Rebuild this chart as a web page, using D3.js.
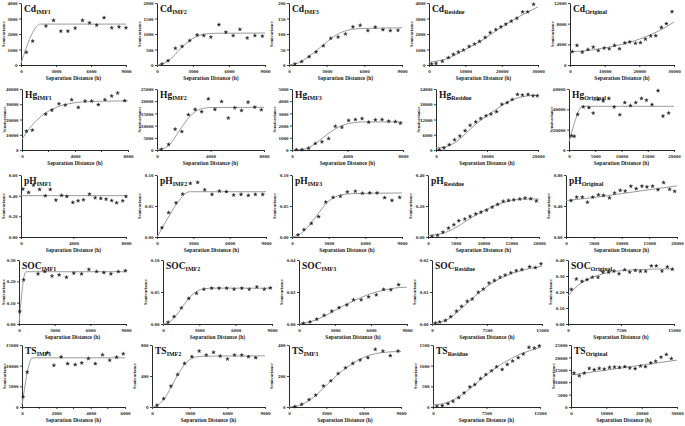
<!DOCTYPE html>
<html>
<head>
<meta charset="utf-8">
<script src="https://cdn.jsdelivr.net/npm/d3@7"></script>
<style>
  body { margin: 0; background: #fff; }
  text { font-family: "Liberation Serif", "DejaVu Serif", serif; font-weight: bold; }
</style>
</head>
<body>
<svg id="chart" width="685" height="426"></svg>
<script>
// Row / column names
const elements = ['Cd', 'Hg', 'pH', 'SOC', 'TS'];
const components = ['IMF1', 'IMF2', 'IMF3', 'Residue', 'Original'];

// ---- Cd ----
const cdImf1Points = [[460,820],[1000,1540],[2140,2510],[2790,2880],[3420,2180],[4020,2180],[4640,2380],[5270,2880],[5870,2720],[6490,2570],[7120,3050],[7780,2400],[8400,2460],[9000,2400]];
const cdImf1Model = [[0,100],[450,1100],[1000,2100],[1350,2500],[1650,2640],[9000,2640]];
const cdImf2Points = [[420,30],[920,140],[1530,540],[2090,600],[2730,790],[3340,970],[3900,950],[4490,900],[5160,1300],[5740,1060],[6350,950],[6910,1150],[7520,870],[8160,950],[8780,930]];
const cdImf2Model = [[0,0],[500,40],[1000,150],[1500,330],[2000,540],[2500,720],[3000,860],[3500,950],[4000,1000],[5000,1025],[9000,1030]];
const cdImf3Points = [[480,3],[1010,11],[1600,27],[2160,42],[2740,62],[3330,86],[3910,90],[4500,100],[5090,123],[5670,128],[6280,111],[6870,122],[7480,114],[8070,111],[8680,112]];
const cdImf3Model = [[0,0],[500,4],[1000,12],[1500,25],[2000,40],[2500,57],[3000,74],[3500,90],[4000,102],[4500,110],[5000,115],[6000,118],[9000,120]];
const cdResiduePoints = [[740,64],[1930,107],[3680,235],[5340,471],[6720,684],[8100,834],[9480,963],[11040,1198],[12520,1348],[13900,1519],[15460,1775],[16840,2096],[18400,2289],[19790,2460],[21170,2631],[22640,2824],[24200,3016],[25770,3422],[27150,3422],[28800,3914]];
const cdResidueModel = [[0,180],[5000,420],[10000,1000],[15000,1650],[20000,2450],[25000,3150],[30000,3750]];
const cdOriginalPoints = [[670,2600],[2010,3800],[3550,2470],[5180,3000],[6710,3470],[8150,2800],[9870,3270],[11310,3130],[12840,3800],[14280,3130],[15820,4270],[17250,4470],[18880,4200],[20320,4330],[21760,5000],[23290,5600],[24730,5670],[26360,7270],[27800,8000],[29430,10330]];
const cdOriginalModel = [[0,2550],[5000,2800],[10000,3300],[15000,4000],[20000,5000],[25000,6400],[30000,8300]];

// ---- Hg ----
const hgImf1Points = [[330,12300],[780,12970],[1790,23500],[2260,26150],[2790,30300],[3270,29450],[3750,32950],[4250,27900],[4760,32100],[5260,32100],[5760,29700],[6260,32950],[6770,35400],[7220,37360],[7750,32300]];
const hgImf1Model = [[0,7000],[500,13500],[1000,18500],[1500,22500],[2000,25500],[2500,27600],[3000,29200],[4000,31000],[5000,31700],[6000,32000],[8000,32200]];
const hgImf2Points = [[320,270],[870,2300],[1360,8510],[1860,7570],[2350,14460],[2850,16620],[3340,15680],[3840,20950],[4330,16620],[4830,19860],[5330,13110],[5820,17300],[6320,16220],[6810,19600],[7310,17570],[7800,16490]];
const hgImf2Model = [[0,0],[500,600],[1000,2500],[1500,6500],[2000,10500],[2500,14000],[3000,16200],[3500,17100],[4000,17400],[8000,17500]];
const hgImf3Points = [[310,30],[720,30],[1200,140],[1680,530],[2160,670],[2640,940],[3120,1940],[3600,1860],[4080,2420],[4570,2500],[5050,2580],[5530,2280],[6010,2470],[6490,2500],[6970,2360],[7450,2330],[7810,2190]];
const hgImf3Model = [[0,0],[800,50],[1500,400],[2000,800],[2500,1250],[3000,1650],[3500,1950],[4000,2150],[4500,2250],[5000,2300],[8000,2300]];
const hgResiduePoints = [[650,130],[1560,800],[2600,2130],[3640,4000],[4680,5470],[5710,7600],[6690,9730],[7790,11070],[8770,12400],[9810,13470],[10780,14130],[11880,15070],[12920,18000],[13960,18670],[14940,19870],[15970,21870],[16950,21600],[18050,21870],[19030,21330],[19870,21330]];
const hgResidueModel = [[0,800],[2000,1300],[4000,3300],[6000,6800],[8000,10500],[10000,13500],[12000,16300],[14000,18800],[16000,20500],[18000,21300],[20000,21600]];
const hgOriginalPoints = [[510,14000],[1010,13500],[1650,35000],[2720,42330],[3800,41670],[4620,36330],[5570,49670],[6520,48330],[7600,50670],[8610,42330],[9680,34670],[10630,46670],[11710,43670],[12720,46670],[13800,50670],[14750,49000],[15820,44670],[16960,58330],[17910,33330],[18990,36330]];
const hgOriginalModel = [[0,8000],[500,17000],[1000,26000],[1500,34000],[2000,40000],[2600,43000],[20000,43000]];

// ---- pH ----
const phImf1Points = [[150,0.464],[580,0.431],[960,0.502],[1420,0.460],[1850,0.399],[2230,0.460],[2660,0.357],[3090,0.402],[3490,0.392],[3950,0.334],[4350,0.350],[4760,0.360],[5220,0.415],[5650,0.379],[6080,0.373],[6480,0.366],[6910,0.353],[7290,0.331],[7750,0.350],[8000,0.392]];
const phImf1Model = [[0,0.40],[8000,0.40]];
const phImf2Points = [[410,0.0151],[960,0.0395],[1570,0.0551],[2120,0.0692],[2750,0.0865],[3360,0.0881],[3940,0.0762],[4540,0.0686],[5150,0.0741],[5730,0.0730],[6330,0.0676],[6940,0.0686],[7540,0.0670],[8120,0.0686],[8730,0.0686]];
const phImf2Model = [[0,0],[500,0.017],[1000,0.034],[1500,0.050],[2000,0.063],[2400,0.071],[2700,0.073],[9000,0.073]];
const phImf3Points = [[490,0.0033],[980,0.0120],[1580,0.0219],[2180,0.0328],[2760,0.0563],[3360,0.0639],[3960,0.0656],[4530,0.0727],[5180,0.0738],[5760,0.0705],[6360,0.0710],[6960,0.0710],[7580,0.0634],[8180,0.0590],[8810,0.0639]];
const phImf3Model = [[0,0],[500,0.003],[1000,0.010],[1500,0.021],[2000,0.034],[2500,0.047],[3000,0.058],[3500,0.064],[4000,0.068],[5000,0.070],[9000,0.071]];
const phResiduePoints = [[720,0.004],[1730,0.011],[2690,0.031],[3700,0.057],[4660,0.079],[5550,0.105],[6630,0.116],[7580,0.133],[8600,0.149],[9550,0.160],[10570,0.173],[11580,0.192],[12540,0.210],[13550,0.230],[14510,0.236],[15460,0.240],[16540,0.245],[17490,0.251],[18510,0.247],[19520,0.232]];
const phResidueModel = [[0,0.010],[2500,0.022],[5000,0.060],[7500,0.118],[10000,0.168],[12500,0.210],[15000,0.235],[17500,0.245],[20000,0.245]];
const phOriginalPoints = [[900,0.470],[1930,0.514],[2950,0.514],[3860,0.448],[4820,0.514],[5840,0.545],[6750,0.536],[7830,0.505],[8740,0.567],[9760,0.602],[10660,0.593],[11690,0.655],[12650,0.624],[13680,0.655],[14580,0.646],[15600,0.655],[16570,0.611],[17590,0.703],[18680,0.615],[19580,0.589]];
const phOriginalModel = [[0,0.47],[5000,0.51],[10000,0.56],[15000,0.61],[20000,0.66]];

// ---- SOC ----
const socImf1Points = [[60,0.059],[390,0.207],[1600,0.235],[2170,0.246],[2780,0.225],[3380,0.230],[3990,0.219],[4610,0.238],[5260,0.235],[5880,0.256],[6530,0.246],[7140,0.241],[7730,0.235],[8350,0.246],[8950,0.250]];
const socImf1Model = [[0,0],[150,0.095],[300,0.175],[450,0.228],[600,0.245],[9000,0.245]];
const socImf2Points = [[420,0.0027],[910,0.0117],[1520,0.0250],[2130,0.0399],[2770,0.0479],[3380,0.0543],[4020,0.0559],[4630,0.0559],[5260,0.0559],[5870,0.0543],[6510,0.0559],[7120,0.0543],[7750,0.0580],[8360,0.0543],[8860,0.0564]];
const socImf2Model = [[0,0],[500,0.003],[1000,0.011],[1500,0.024],[2000,0.037],[2500,0.047],[3000,0.053],[3500,0.055],[4000,0.056],[9000,0.056]];
const socImf3Points = [[360,0.0004],[920,0.0013],[1480,0.0030],[2090,0.0054],[2730,0.0080],[3340,0.0102],[3990,0.0119],[4540,0.0151],[5180,0.0151],[5800,0.0169],[6440,0.0182],[7050,0.0216],[7660,0.0214],[8300,0.0246]];
const socImf3Model = [[0,0],[1000,0.0015],[2000,0.0045],[3000,0.0085],[4000,0.0125],[5000,0.016],[6000,0.019],[7000,0.021],[8000,0.0225],[9000,0.023]];
const socResiduePoints = [[460,0.0003],[1050,0.0006],[1830,0.0011],[2560,0.0023],[3340,0.0040],[4020,0.0055],[4800,0.0071],[5490,0.0078],[6310,0.0099],[7000,0.0109],[7770,0.0128],[8510,0.0136],[9280,0.0146],[9970,0.0153],[10750,0.0160],[11480,0.0167],[12260,0.0170],[13310,0.0179],[14090,0.0176],[14860,0.0188]];
const socResidueModel = [[0,0],[2000,0.0013],[4000,0.0048],[6000,0.0090],[8000,0.0125],[10000,0.0150],[12000,0.0166],[15000,0.0180]];
const socOriginalPoints = [[470,0.216],[1180,0.281],[1980,0.266],[2690,0.277],[3440,0.292],[4250,0.292],[4950,0.324],[5760,0.324],[6510,0.331],[7220,0.314],[8020,0.339],[8730,0.324],[9530,0.335],[10240,0.329],[10990,0.329],[11790,0.363],[12500,0.363],[13300,0.331],[14060,0.357],[14760,0.342]];
const socOriginalModel = [[0,0.175],[1000,0.225],[2000,0.26],[3000,0.285],[4000,0.30],[5000,0.315],[6000,0.325],[8000,0.335],[10000,0.34],[15000,0.345]];

// ---- TS ----
const tsImf1Points = [[60,2460],[300,8440],[1480,13120],[1860,10080],[2280,12130],[2660,10490],[3100,10250],[3480,10660],[3870,11720],[4270,10490],[4690,12620],[5110,11310],[5510,12050],[5900,12870]];
const tsImf1Model = [[0,500],[150,4500],[300,8300],[450,10800],[590,11900],[6000,11900]];
const tsImf2Points = [[400,22],[930,108],[1510,268],[2040,419],[2590,562],[3180,649],[3760,722],[4320,670],[4900,705],[5430,657],[6010,618],[6570,670],[7150,670],[7680,649],[8260,636]];
const tsImf2Model = [[0,0],[500,30],[1000,110],[1500,250],[2000,400],[2500,530],[3000,610],[3500,645],[4000,655],[9000,660]];
const tsImf3Points = [[480,2],[1020,17],[1610,48],[2150,76],[2770,136],[3360,169],[3950,216],[4540,253],[5130,281],[5720,303],[6340,318],[6930,372],[7550,361],[8140,331],[8760,361]];
const tsImf3Model = [[0,0],[1000,15],[2000,65],[3000,140],[4000,215],[5000,275],[6000,320],[7000,345],[8000,355],[9000,358]];
const tsResiduePoints = [[560,16],[1310,32],[2110,81],[2810,138],[3610,227],[4360,341],[5160,486],[5860,543],[6660,689],[7410,786],[8200,876],[8910,973],[9700,908],[10410,1030],[11160,1111],[11950,1192],[12660,1281],[13450,1443],[14200,1427],[14910,1476]];
const tsResidueModel = [[0,50],[2000,110],[4000,290],[6000,560],[8000,850],[10000,1080],[12000,1260],[15000,1440]];
const tsOriginalPoints = [[850,13660],[2350,12570],[3760,13660],[5170,15570],[6580,15030],[7990,15570],[9400,15300],[10910,15980],[12320,16120],[13730,15980],[15240,16260],[16650,15710],[18150,15440],[19660,16530],[21070,16260],[22570,17760],[23980,18440],[25490,20080],[26990,21170],[28400,19540]];
const tsOriginalModel = [[0,12900],[10000,14900],[20000,16900],[30000,18900]];

// ---- tick labels ----
const x9000 = [0,3000,6000,9000];
const x8000 = [0,4000,8000];
const x30000 = [0,10000,20000,30000];
const x20000a = [0,10000,20000];
const x20000b = [0,5000,10000,15000,20000];
const x15000 = [0,7500,15000];
const x6000 = [0,2000,4000,6000];

const panels = [
  // Cd
  { pts: cdImf1Points, model: cdImf1Model, xt: x9000, yt: [0,1000,2000,3000,4000] },
  { pts: cdImf2Points, model: cdImf2Model, xt: x9000, yt: [0,500,1000,1500,2000] },
  { pts: cdImf3Points, model: cdImf3Model, xt: x9000, yt: [0,50,100,150,200] },
  { pts: cdResiduePoints, model: cdResidueModel, xt: x30000, yt: [0,1000,2000,3000,4000] },
  { pts: cdOriginalPoints, model: cdOriginalModel, xt: x30000, yt: [0,4000,8000,12000] },
  // Hg
  { pts: hgImf1Points, model: hgImf1Model, xt: x8000, yt: [0,10000,20000,30000,40000], minor: [2000,6000] },
  { pts: hgImf2Points, model: hgImf2Model, xt: x8000, yt: [0,5000,10000,15000,20000,25000] },
  { pts: hgImf3Points, model: hgImf3Model, xt: x8000, yt: [0,1000,2000,3000,4000,5000] },
  { pts: hgResiduePoints, model: hgResidueModel, xt: x20000a, yt: [0,6000,12000,18000,24000] },
  { pts: hgOriginalPoints, model: hgOriginalModel, xt: x20000b, yt: [0,20000,40000,60000] },
  // pH
  { pts: phImf1Points, model: phImf1Model, xt: x8000, yt: [0,0.2,0.4,0.6], dec: 2 },
  { pts: phImf2Points, model: phImf2Model, xt: x9000, yt: [0,0.05,0.1], dec: 2 },
  { pts: phImf3Points, model: phImf3Model, xt: x9000, yt: [0,0.05,0.1], dec: 2 },
  { pts: phResiduePoints, model: phResidueModel, xt: x20000b, yt: [0,0.2,0.4], dec: 2 },
  { pts: phOriginalPoints, model: phOriginalModel, xt: x20000b, yt: [0,0.4,0.8], dec: 2 },
  // SOC
  { pts: socImf1Points, model: socImf1Model, xt: x9000, yt: [0,0.1,0.2,0.3], dec: 2 },
  { pts: socImf2Points, model: socImf2Model, xt: x9000, yt: [0,0.05,0.1], dec: 2 },
  { pts: socImf3Points, model: socImf3Model, xt: x9000, yt: [0,0.02,0.04], dec: 2 },
  { pts: socResiduePoints, model: socResidueModel, xt: x15000, yt: [0,0.01,0.02], dec: 2 },
  { pts: socOriginalPoints, model: socOriginalModel, xt: x15000, yt: [0,0.1,0.2,0.3,0.4], dec: 2 },
  // TS
  { pts: tsImf1Points, model: tsImf1Model, xt: x6000, yt: [0,5000,10000,15000], minor: [1000,3000,5000] },
  { pts: tsImf2Points, model: tsImf2Model, xt: x9000, yt: [0,400,800] },
  { pts: tsImf3Points, model: tsImf3Model, xt: x9000, yt: [0,200,400] },
  { pts: tsResiduePoints, model: tsResidueModel, xt: x15000, yt: [0,500,1000,1500] },
  { pts: tsOriginalPoints, model: tsOriginalModel, xt: x30000, yt: [0,5000,10000,15000,20000,25000] }
];

// layout of the plot boxes (pixels)
const rowTop = [3, 89, 175, 260, 345];
const rowBottom = [65, 150, 237, 324, 407];
const colLeft = [[21,157,289,429,570],[22,157,292,436,569],[21,157,292,428,566],[19,163,299,432,568],[22,152,289,433,571]];
const colRight = [[126,265,402,538,674],[128,264,403,538,674],[126,266,402,539,677],[126,272,407,542,674],[125,265,401,540,677]];

const svg = d3.select('#chart');

panels.forEach((p, i) => {
  const r = Math.floor(i / 5), c = i % 5;
  const left = colLeft[r][c], right = colRight[r][c];
  const top = rowTop[r], bottom = rowBottom[r];

  const x = d3.scaleLinear().domain([0, d3.max(p.xt)]).range([left, right]);
  const y = d3.scaleLinear().domain([0, d3.max(p.yt)]).range([bottom, top]);
  const g = svg.append('g');

  const yFmt = p.dec ? d3.format('.' + p.dec + 'f') : d3.format('d');

  const xAxis = g.append('g')
    .attr('transform', `translate(0,${bottom})`)
    .call(d3.axisBottom(x).tickValues(p.xt).tickSize(2).tickSizeOuter(0).tickPadding(2).tickFormat(d3.format('d')));
  const yAxis = g.append('g')
    .attr('transform', `translate(${left},0)`)
    .call(d3.axisLeft(y).tickValues(p.yt).tickSize(2).tickSizeOuter(0).tickPadding(1.5).tickFormat(yFmt));

  [xAxis, yAxis].forEach(a => {
    a.select('.domain').attr('stroke', '#111').attr('stroke-width', 0.9);
    a.selectAll('.tick line').attr('stroke', '#111').attr('stroke-width', 0.8);
    a.selectAll('.tick text')
      .attr('font-size', 5)
      .attr('font-family', '"Liberation Serif", serif')
      .attr('font-weight', 'bold')
      .attr('fill', '#222');
  });

  if (p.minor) {
    g.selectAll('.minor').data(p.minor).enter().append('line')
      .attr('x1', d => x(d)).attr('x2', d => x(d))
      .attr('y1', bottom).attr('y2', bottom + 2)
      .attr('stroke', '#111').attr('stroke-width', 0.8);
  }

  // model curve
  const line = d3.line().x(d => x(d[0])).y(d => y(d[1])).curve(d3.curveMonotoneX);
  g.append('path')
    .datum(p.model)
    .attr('d', line)
    .attr('fill', 'none')
    .attr('stroke', '#9b9b9b')
    .attr('stroke-width', 1);

  // experimental points
  const sym = d3.symbol().type(d3.symbolStar).size(4.5);
  g.selectAll('.pt').data(p.pts).enter().append('path')
    .attr('d', sym)
    .attr('transform', d => `translate(${x(d[0])},${y(d[1])})`)
    .attr('fill', '#222')
    .attr('stroke', '#222')
    .attr('stroke-width', 0.3);

  // title
  const t = g.append('text')
    .attr('x', left + 3)
    .attr('y', top + 9)
    .attr('fill', '#111');
  t.append('tspan').attr('font-size', 9.5).text(elements[r]);
  t.append('tspan').attr('font-size', 6).attr('dy', 2).text(components[c]);

  // axis titles
  g.append('text')
    .attr('x', (left + right) / 2)
    .attr('y', bottom + 15)
    .attr('text-anchor', 'middle')
    .attr('font-size', 5.5)
    .attr('fill', '#222')
    .text('Separation Distance (h)');

  g.append('text')
    .attr('transform', `translate(${Math.max(left - 16, 5)},${(top + bottom) / 2}) rotate(-90)`)
    .attr('text-anchor', 'middle')
    .attr('font-size', 4.5)
    .attr('fill', '#222')
    .text('Semivariance');
});
</script>
</body>
</html>
